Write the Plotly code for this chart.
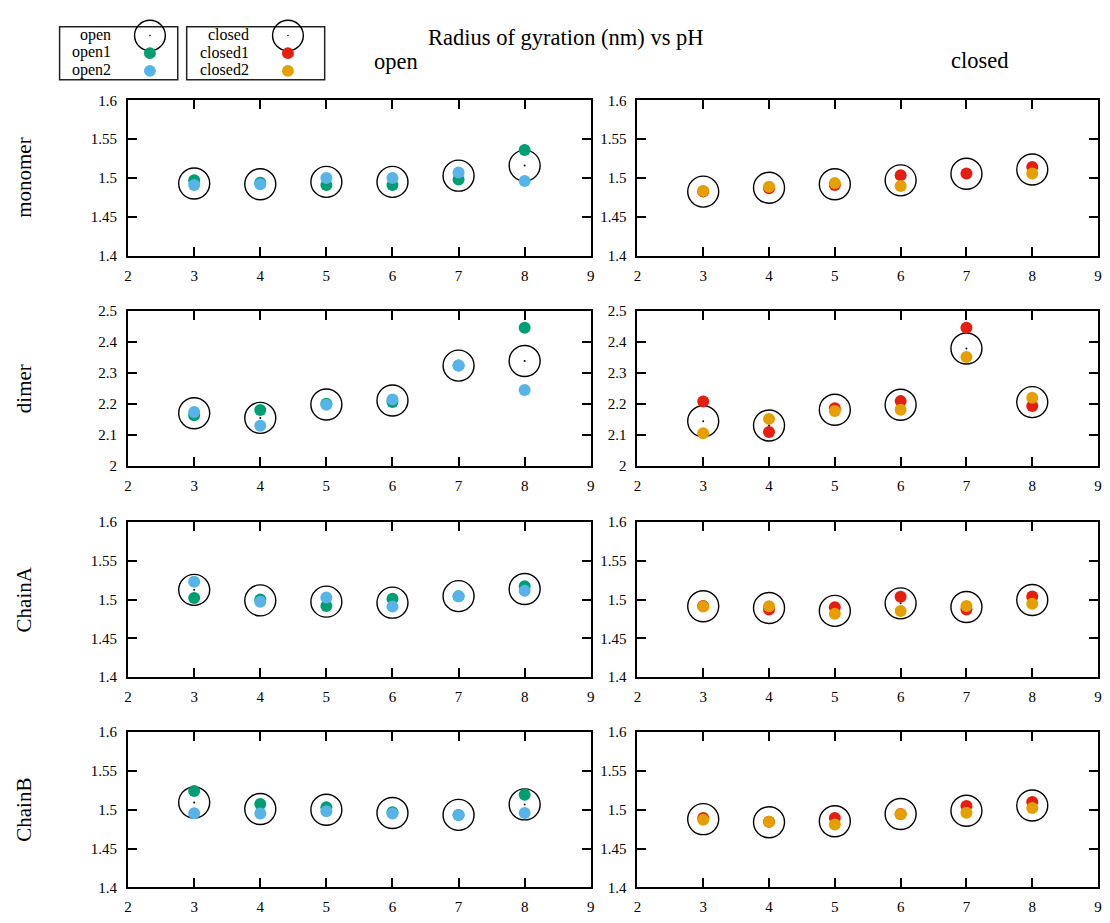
import plotly.graph_objects as go

# ---------------- data ----------------
ph = [3, 4, 5, 6, 7, 8]
x_ticks = [2, 3, 4, 5, 6, 7, 8, 9]
row_names = ["monomer", "dimer", "ChainA", "ChainB"]

y_ticks_small = [1.4, 1.45, 1.5, 1.55, 1.6]
y_ticks_small_text = ["1.4", "1.45", "1.5", "1.55", "1.6"]
y_ticks_dimer = [2.0, 2.1, 2.2, 2.3, 2.4, 2.5]
y_ticks_dimer_text = ["2", "2.1", "2.2", "2.3", "2.4", "2.5"]

# monomer
monomer_open = [1.493, 1.492, 1.495, 1.495, 1.503, 1.516]
monomer_open1 = [1.497, 1.494, 1.491, 1.491, 1.498, 1.536]
monomer_open2 = [1.491, 1.492, 1.500, 1.500, 1.507, 1.496]
monomer_closed = [1.4825, 1.4875, 1.492, 1.497, 1.5055, 1.511]
monomer_closed1 = [1.4825, 1.4867, 1.4909, 1.5036, 1.5057, 1.5142]
monomer_closed2 = [1.4833, 1.4888, 1.4934, 1.4896, None, 1.5057]

# dimer
dimer_open = [2.1695, 2.1547, 2.198, 2.2108, 2.323, 2.338]
dimer_open1 = [2.1631, 2.180, 2.200, 2.2055, 2.323, 2.445]
dimer_open2 = [2.1737, 2.1292, 2.197, 2.214, 2.323, 2.2447]
dimer_closed = [2.144, 2.130, 2.181, 2.197, 2.378, 2.2055]
dimer_closed1 = [2.2076, 2.109, 2.1854, 2.2087, 2.445, 2.1928]
dimer_closed2 = [2.1049, 2.1515, 2.1769, 2.181, 2.3506, 2.2193]

# ChainA
chainA_open = [1.5125, 1.4989, 1.4973, 1.496, 1.5044, 1.5137]
chainA_open1 = [1.5019, 1.5002, 1.4918, 1.5011, 1.5044, 1.5171]
chainA_open2 = [1.5230, 1.4973, 1.5028, 1.4909, 1.5044, 1.5112]
chainA_closed = [1.4913, 1.4892, 1.4854, 1.4951, 1.4905, 1.4994]
chainA_closed1 = [1.4917, 1.4871, 1.4901, 1.5036, 1.4871, 1.504]
chainA_closed2 = [1.4909, 1.4913, 1.4816, 1.4854, 1.4918, 1.4947]

# ChainB
chainB_open = [1.5095, 1.5011, 1.5002, 1.496, 1.4935, 1.507]
chainB_open1 = [1.5242, 1.5074, 1.5032, 1.4968, 1.4935, 1.5196]
chainB_open2 = [1.4956, 1.4952, 1.4981, 1.4952, 1.4935, 1.496]
chainB_closed = [1.488, 1.484, 1.4854, 1.4947, 1.4989, 1.5057]
chainB_closed1 = [1.4896, 1.4846, 1.4896, 1.4947, 1.5049, 1.510]
chainB_closed2 = [1.4871, 1.4846, 1.4812, 1.4943, 1.4964, 1.5023]

# ---------------- styling ----------------
W, H = 1110, 923
FONT = "Liberation Serif"
C_OPEN1 = "#009e73"
C_OPEN2 = "#56b4e9"
C_CLOSED1 = "#e51e10"
C_CLOSED2 = "#e69f00"

col_px = [(125, 591), (638, 1102)]
row_px = [(94, 252), (308, 466), (523, 681), (737, 895)]

panels = [
    [(monomer_open, monomer_open1, monomer_open2), (monomer_closed, monomer_closed1, monomer_closed2)],
    [(dimer_open, dimer_open1, dimer_open2), (dimer_closed, dimer_closed1, dimer_closed2)],
    [(chainA_open, chainA_open1, chainA_open2), (chainA_closed, chainA_closed1, chainA_closed2)],
    [(chainB_open, chainB_open1, chainB_open2), (chainB_closed, chainB_closed1, chainB_closed2)],
]
col_colors = [(C_OPEN1, C_OPEN2), (C_CLOSED1, C_CLOSED2)]


def px_x(x):
    return x / W


def px_y(y):
    return 1 - y / H


fig = go.Figure()
layout = {}
idx = 0
for r, (top, bot) in enumerate(row_px):
    for c, (left, right) in enumerate(col_px):
        idx += 1
        xa = "x" if idx == 1 else f"x{idx}"
        ya = "y" if idx == 1 else f"y{idx}"
        mean, s1, s2 = panels[r][c]
        c1, c2 = col_colors[c]
        fig.add_trace(go.Scatter(x=ph, y=mean, mode="markers", xaxis=xa, yaxis=ya,
                                 marker=dict(symbol="circle-open", size=31, color="black",
                                             line=dict(color="black", width=1.4)),
                                 showlegend=False, hoverinfo="x+y"))
        fig.add_trace(go.Scatter(x=ph, y=mean, mode="markers", xaxis=xa, yaxis=ya,
                                 marker=dict(symbol="circle", size=2, color="black"),
                                 showlegend=False, hoverinfo="skip"))
        fig.add_trace(go.Scatter(x=ph, y=s1, mode="markers", xaxis=xa, yaxis=ya,
                                 marker=dict(symbol="circle", size=12, color=c1),
                                 showlegend=False))
        fig.add_trace(go.Scatter(x=ph, y=s2, mode="markers", xaxis=xa, yaxis=ya,
                                 marker=dict(symbol="circle", size=12, color=c2),
                                 showlegend=False))
        is_dimer = (r == 1)
        axis_common = dict(showline=True, linecolor="black", linewidth=2,
                           mirror="ticks", ticks="inside", ticklen=9, tickwidth=1.5,
                           tickcolor="black", showgrid=False, zeroline=False,
                           tickfont=dict(family=FONT, size=15, color="black"))
        layout["xaxis" if idx == 1 else f"xaxis{idx}"] = dict(
            domain=[px_x(left), px_x(right)], anchor=ya, range=[2, 9],
            tickvals=x_ticks, ticktext=[str(v) for v in x_ticks],
            ticklabelstandoff=5, **axis_common)
        layout["yaxis" if idx == 1 else f"yaxis{idx}"] = dict(
            domain=[px_y(bot), px_y(top)], anchor=xa,
            range=[2.0, 2.5] if is_dimer else [1.4, 1.6],
            tickvals=y_ticks_dimer if is_dimer else y_ticks_small,
            ticktext=y_ticks_dimer_text if is_dimer else y_ticks_small_text,
            ticklabelstandoff=6, **axis_common)

annotations = []


def label(text, x, y, size, xanchor="center", angle=0):
    annotations.append(dict(text=text, x=px_x(x), y=px_y(y), xref="paper", yref="paper",
                            xanchor=xanchor, yanchor="middle", showarrow=False,
                            textangle=angle, borderpad=0,
                            font=dict(family=FONT, size=size, color="black")))


# title and column titles
label("Radius of gyration (nm) vs pH", 566, 30, 22.5)
label("open", 395, 54, 22.5)
label("closed", 983, 53, 22.5)
# row labels
for r, (top, bot) in enumerate(row_px):
    label(row_names[r], 20, (top + bot) / 2, 21, angle=-90)

# legend (drawn manually, gnuplot style)
shapes = []
for (bx0, bx1) in [(56, 175), (184, 323)]:
    shapes.append(dict(type="rect", xref="paper", yref="paper",
                       x0=px_x(bx0), x1=px_x(bx1), y0=px_y(73), y1=px_y(19),
                       line=dict(color="#222", width=1.5)))

legend_items = [
    (109, 147, ["open", "open1", "open2"], [C_OPEN1, C_OPEN2]),
    (248, 286, ["closed", "closed1", "closed2"], [C_CLOSED1, C_CLOSED2]),
]
row_y = [27, 45, 63]
for tx, mx, labels, cols in legend_items:
    for k, lab in enumerate(labels):
        label(lab, tx, row_y[k], 16, xanchor="right")
    rr = 15.5
    shapes.append(dict(type="circle", xref="paper", yref="paper",
                       x0=px_x(mx - rr), x1=px_x(mx + rr), y0=px_y(28 + rr), y1=px_y(28 - rr),
                       line=dict(color="black", width=1.4)))
    shapes.append(dict(type="circle", xref="paper", yref="paper",
                       x0=px_x(mx - 0.8), x1=px_x(mx + 0.8), y0=px_y(28 + 0.8), y1=px_y(28 - 0.8),
                       fillcolor="black", line=dict(width=0)))
    for k, cy in enumerate([46, 64]):
        shapes.append(dict(type="circle", xref="paper", yref="paper",
                           x0=px_x(mx - 6), x1=px_x(mx + 6), y0=px_y(cy + 6), y1=px_y(cy - 6),
                           fillcolor=cols[k], line=dict(width=0)))

fig.update_layout(width=W, height=H, margin=dict(l=0, r=0, t=0, b=0),
                  paper_bgcolor="white", plot_bgcolor="white",
                  font=dict(family=FONT, color="black"),
                  annotations=annotations, shapes=shapes, showlegend=False, **layout)

fig.write_html("out.html")
